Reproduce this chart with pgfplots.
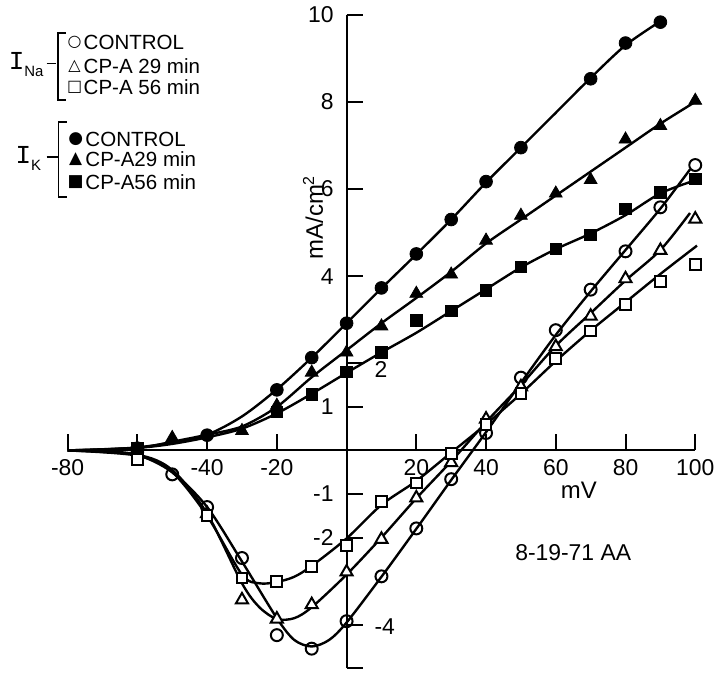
\documentclass[border=0pt]{standalone}
\usepackage{pgfplots}
\pgfplotsset{compat=1.18}
\usepackage{fontspec}
\setmainfont{Liberation Sans}
\setmonofont{Liberation Mono}
\newfontfamily\sym{DejaVu Sans}
\begin{document}
\begin{tikzpicture}
\begin{axis}[
  scale only axis, width=315pt, height=328pt,
  xmin=-80, xmax=100, ymin=-5.0, ymax=10,
  axis lines=middle, axis line style={-, line width=1pt},
  clip=false,
  tick align=inside,
  major tick length=8pt,
  tick style={line width=1pt, black},
  xtick={-80,-60,-40,-20,0,20,40,60,80,100},
  xticklabels={-80,,-40,-20,,20,40,60,80,100},
  ytick={-4,-2,-1,1,2,4,6,8,10},
  yticklabels={,-2,-1,1,,4,6,8,10},
  extra y ticks={-5},
  extra y tick labels={},
  tick label style={font=\fontsize{11.5}{11.5}\selectfont},
  xticklabel style={yshift=-1pt},
  yticklabel style={xshift=-3pt},
  /pgf/number format/assume math mode=true,
]
% fitted curves
\addplot[black, line width=1.2pt, smooth, tension=0.5] coordinates {
(-80,0)(-70,0.02)(-60,0.07)(-50,0.18)(-40,0.36)(-30,0.78)(-20,1.4)(-10,2.13)(0,2.92)(10,3.72)(20,4.5)(30,5.3)(40,6.15)(50,6.95)(60,7.75)(70,8.55)(80,9.3)(90,9.85)};
\addplot[black, line width=1.2pt, smooth, tension=0.5] coordinates {
(-80,0)(-60,0.06)(-50,0.2)(-40,0.36)(-30,0.55)(-20,1.0)(-10,1.68)(0,2.3)(10,2.92)(20,3.5)(30,4.1)(40,4.75)(50,5.3)(60,5.85)(70,6.4)(80,6.95)(90,7.5)(100,8.0)};
\addplot[black, line width=1.2pt, smooth, tension=0.5] coordinates {
(-80,0)(-60,0.06)(-50,0.15)(-40,0.3)(-30,0.5)(-20,0.85)(-10,1.3)(0,1.78)(10,2.25)(20,2.7)(30,3.2)(40,3.7)(50,4.2)(60,4.62)(70,4.98)(80,5.4)(90,5.9)(100,6.2)};
\addplot[black, line width=1.2pt, smooth, tension=0.5] coordinates {
(-80,0)(-70,-0.02)(-60,-0.1)(-50,-0.5)(-40,-1.3)(-30,-2.55)(-20,-3.85)(-15,-4.35)(-10,-4.5)(-5,-4.35)(0,-3.95)(10,-2.9)(20,-1.8)(30,-0.68)(40,0.42)(50,1.55)(60,2.65)(70,3.65)(80,4.6)(90,5.55)(98.5,6.45)};
\addplot[black, line width=1.2pt, smooth, tension=0.5] coordinates {
(-80,0)(-60,-0.1)(-50,-0.45)(-40,-1.45)(-30,-3.05)(-25,-3.6)(-20,-3.87)(-15,-3.85)(-10,-3.6)(0,-2.85)(10,-2.0)(20,-1.1)(30,-0.25)(40,0.65)(50,1.5)(60,2.4)(70,3.15)(80,3.9)(90,4.6)(98.5,5.45)};
\addplot[black, line width=1.2pt, smooth, tension=0.5] coordinates {
(-80,0)(-60,-0.12)(-50,-0.5)(-40,-1.5)(-30,-2.85)(-25,-3.05)(-20,-3.02)(-15,-2.9)(-10,-2.65)(0,-2.02)(10,-1.25)(20,-0.7)(30,-0.05)(40,0.6)(50,1.3)(60,2.05)(70,2.75)(80,3.4)(90,4.05)(100.5,4.7)};
% data: I_K (filled)
\addplot[only marks, mark=*, mark size=3.2pt, black] coordinates {
(-60,0.05)(-40,0.35)(-20,1.39)(-10,2.13)(0,2.92)(10,3.73)(20,4.51)(30,5.30)(40,6.17)(50,6.95)(70,8.53)(80,9.35)(90,9.83)};
\addplot[only marks, mark=triangle*, mark size=3.7pt, black] coordinates {
(-60,0.05)(-50,0.29)(-30,0.45)(-20,1.03)(-10,1.79)(0,2.25)(10,2.85)(20,3.6)(30,4.04)(40,4.82)(50,5.39)(60,5.90)(70,6.21)(80,7.14)(90,7.45)(100,8.03)};
\addplot[only marks, mark=square*, mark size=2.9pt, black] coordinates {
(-60,0.05)(-20,0.88)(-10,1.29)(0,1.8)(10,2.25)(20,2.99)(30,3.20)(40,3.67)(50,4.21)(60,4.63)(70,4.95)(80,5.54)(90,5.92)(100,6.23)};
% data: I_Na (open)
\addplot[only marks, mark=o, mark size=3pt, black, line width=1pt, mark options={fill=white}] coordinates {
(-50,-0.55)(-40,-1.3)(-30,-2.47)(-20,-4.24)(-10,-4.55)(0,-3.92)(10,-2.89)(20,-1.79)(30,-0.66)(40,0.40)(50,1.67)(60,2.76)(70,3.69)(80,4.57)(90,5.58)(100,6.55)};
\addplot[only marks, mark=triangle*, mark size=3.5pt, black, line width=1pt, mark options={fill=white}] coordinates {
(-40,-1.45)(-30,-3.43)(-20,-3.87)(-10,-3.54)(0,-2.79)(10,-2.04)(20,-1.09)(30,-0.28)(40,0.72)(50,1.46)(60,2.38)(70,3.08)(80,3.94)(90,4.59)(100,5.31)};
\addplot[only marks, mark=square*, mark size=2.7pt, black, line width=1pt, mark options={fill=white}] coordinates {
(-60,-0.2)(-40,-1.5)(-30,-2.93)(-20,-3.0)(-10,-2.66)(0,-2.19)(10,-1.17)(20,-0.75)(30,-0.07)(40,0.6)(50,1.30)(60,2.11)(70,2.74)(80,3.35)(90,3.88)(100,4.26)};
% extra tick labels on the right side of the y axis
\node[anchor=west, font=\fontsize{11.5}{11.5}\selectfont] at (axis cs:6.0,1.85) {2};
\node[anchor=west, font=\fontsize{11.5}{11.5}\selectfont] at (axis cs:6.0,-4.05) {-4};
% axis titles and annotation
\node[font=\fontsize{12}{12}\selectfont] at (axis cs:66.6,-0.92) {mV};
\node[font=\fontsize{12}{12}\selectfont, rotate=90] at (axis cs:-9.6,5.35) {mA/cm\textsuperscript{2}};
\node[font=\fontsize{11.5}{11.5}\selectfont] at (axis cs:65,-2.34) {8-19-71 AA};
% legend I_Na
\draw[line width=0.9pt] (axis cs:-86.0,8.88) -- (axis cs:-83.2,8.88);
\draw[line width=0.9pt] (axis cs:-80.4,9.59) -- (axis cs:-82.86,9.59) -- (axis cs:-82.86,8.05) -- (axis cs:-80.4,8.05);
\node[anchor=east, inner sep=0pt] at (axis cs:-86.8,8.85) {{\fontsize{13}{13}\ttfamily I}\raisebox{-3.5pt}{\fontsize{7.5}{7.5}\selectfont Na}};
\node[inner sep=0pt, font=\sym\fontsize{8}{8}\selectfont] at (axis cs:-78.0,9.36) {○};
\node[inner sep=0pt, font=\sym\fontsize{8}{8}\selectfont] at (axis cs:-78.0,8.81) {△};
\node[inner sep=0pt, font=\sym\fontsize{8}{8}\selectfont] at (axis cs:-78.0,8.33) {□};
\node[anchor=west, inner sep=0pt, font=\fontsize{10.3}{10.3}\selectfont] at (axis cs:-75.5,9.36) {CONTROL};
\node[anchor=west, inner sep=0pt, font=\fontsize{10.3}{10.3}\selectfont] at (axis cs:-75.5,8.81) {CP-A 29 min};
\node[anchor=west, inner sep=0pt, font=\fontsize{10.3}{10.3}\selectfont] at (axis cs:-75.5,8.33) {CP-A 56 min};
% legend I_K
\draw[line width=0.9pt] (axis cs:-86.0,6.74) -- (axis cs:-82.6,6.74);
\draw[line width=0.9pt] (axis cs:-80.3,7.53) -- (axis cs:-82.6,7.53) -- (axis cs:-82.6,5.81) -- (axis cs:-80.3,5.81);
\node[anchor=east, inner sep=0pt] at (axis cs:-87.5,6.70) {{\fontsize{13}{13}\ttfamily I}\raisebox{-3.5pt}{\fontsize{7.5}{7.5}\selectfont K}};
\node[inner sep=0pt, font=\sym\fontsize{8.5}{8.5}\selectfont] at (axis cs:-77.7,7.14) {●};
\node[inner sep=0pt, font=\sym\fontsize{8.5}{8.5}\selectfont] at (axis cs:-77.7,6.68) {▲};
\node[inner sep=0pt, font=\sym\fontsize{8.5}{8.5}\selectfont] at (axis cs:-77.7,6.16) {■};
\node[anchor=west, inner sep=0pt, font=\fontsize{10.3}{10.3}\selectfont] at (axis cs:-75.0,7.14) {CONTROL};
\node[anchor=west, inner sep=0pt, font=\fontsize{10.3}{10.3}\selectfont] at (axis cs:-75.0,6.68) {CP-A29 min};
\node[anchor=west, inner sep=0pt, font=\fontsize{10.3}{10.3}\selectfont] at (axis cs:-75.0,6.16) {CP-A56 min};
% frame of the figure
\path (axis cs:-99.4,-5.1) rectangle (axis cs:106.6,10.23);
\end{axis}
\end{tikzpicture}
\end{document}
